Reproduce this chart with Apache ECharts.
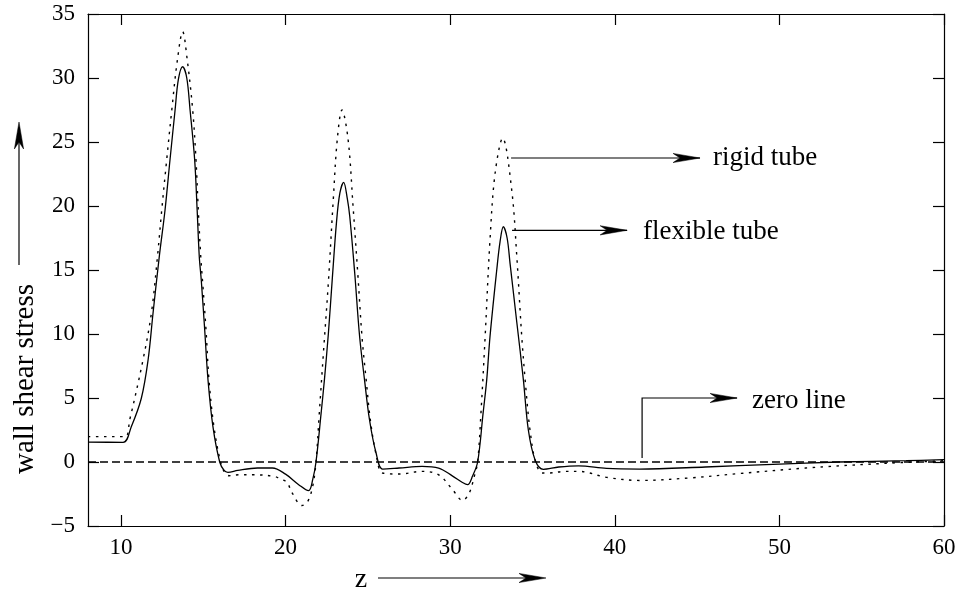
<!DOCTYPE html>
<html>
<head>
<meta charset="utf-8">
<script src="https://cdn.jsdelivr.net/npm/echarts@6/dist/echarts.min.js"></script>
<style>
  html, body { margin: 0; padding: 0; background: #fff; }
  #chart { width: 963px; height: 597px; }
</style>
</head>
<body>
<div id="chart"></div>
<script>
// Axial position z and the tick values shown along it
const zTicks = [10, 20, 30, 40, 50, 60];
const stressTicks = [-5, 0, 5, 10, 15, 20, 25, 30, 35];

// Wall shear stress along z, flexible tube (solid)
const flexibleTube = [
  [8, 1.55], [10.13, 1.54], [10.63, 2.76], [11.24, 4.98], [11.65, 7.97],
  [11.95, 11.62], [12.33, 16.04], [12.68, 19.69], [12.98, 23.59], [13.29, 27.5],
  [13.49, 29.9], [13.75, 30.88], [14.0, 30.0], [14.2, 27.5], [14.48, 23.6],
  [14.63, 19.7], [14.76, 16.04], [14.88, 14.22], [15.09, 10.31], [15.29, 6.41],
  [15.59, 2.76], [16.0, 0], [16.27, -0.66], [16.5, -0.81], [17.1, -0.65],
  [18.3, -0.47], [19.2, -0.47], [20.0, -0.95], [20.8, -1.77], [21.4, -2.24],
  [21.65, -1.38], [21.85, 0], [22.16, 3.8], [22.36, 6.4], [22.6, 10],
  [22.85, 14.5], [23.1, 18.8], [23.3, 21.0], [23.53, 21.85], [23.75, 20.6],
  [23.9, 19.2], [24.2, 14.8], [24.5, 9.8], [24.8, 6.4], [25.1, 3.3],
  [25.5, 0.7], [25.9, -0.55], [26.9, -0.47], [28.3, -0.34], [29.3, -0.47],
  [30.15, -1.1], [30.75, -1.6], [31.06, -1.77], [31.36, -1.1], [31.67, 0],
  [32.0, 3.8], [32.22, 6.4], [32.42, 9.79], [32.83, 15.0], [33.03, 17.2],
  [33.23, 18.38], [33.46, 17.5], [33.64, 15.5], [34.05, 10.9], [34.45, 6.4],
  [34.75, 2.5], [35.16, 0.16], [35.66, -0.57], [36.6, -0.39], [37.8, -0.3],
  [39.5, -0.5], [41.5, -0.55], [45.5, -0.39], [49.6, -0.18], [53.6, 0],
  [57.7, 0.1], [60, 0.18]
];

// Wall shear stress along z, rigid tube (dotted)
const rigidTube = [
  [8, 1.98], [10.23, 1.98], [10.53, 3.28], [11.34, 7.97], [11.85, 11.62],
  [12.22, 16.04], [12.48, 19.69], [12.78, 23.6], [13.09, 27.5], [13.43, 31.4],
  [13.75, 33.62], [14.03, 31.4], [14.36, 27.5], [14.56, 23.6], [14.7, 19.69],
  [14.85, 16.04], [15.0, 13.4], [15.17, 10.3], [15.35, 6.4], [15.65, 2.76],
  [16.05, 0], [16.3, -0.8], [16.57, -1.07], [17.2, -1.0], [18.1, -1.0],
  [19.3, -1.13], [19.8, -1.38], [20.1, -1.6], [20.4, -2.42], [21.0, -3.4],
  [21.35, -3.08], [21.65, -1.9], [21.85, 0], [22.05, 3.8], [22.3, 8.5],
  [22.6, 14], [22.9, 20.5], [23.15, 25.3], [23.43, 27.5], [23.8, 25.2],
  [24.1, 20.0], [24.4, 14.5], [24.65, 9.7], [24.9, 6.4], [25.15, 3.3],
  [25.5, 0.6], [25.9, -0.86], [26.9, -0.94], [28.3, -0.73], [29.3, -1.0],
  [30.15, -2.16], [30.75, -3.0], [31.16, -2.42], [31.47, -1.1], [31.67, 0],
  [31.87, 3.8], [32.12, 9.66], [32.42, 17.34], [32.73, 22.55], [33.19, 25.3],
  [33.74, 21.25], [34.05, 16.04], [34.35, 9.79], [34.61, 5.6], [34.85, 2.5],
  [35.19, 0], [35.6, -0.86], [36.0, -0.86], [37.0, -0.73], [37.8, -0.73],
  [39.5, -1.2], [41.5, -1.44], [44.5, -1.25], [47.5, -0.91], [51.6, -0.47],
  [55.6, -0.16], [60, 0.1]
];

// Reference line at zero stress
const zeroLine = [[8, 0], [60, 0]];

// Callout arrows (in data units) and their captions
const calloutLabels = ['rigid tube', 'flexible tube', 'zero line'];
const calloutPaths = [
  [[33.7, 23.75], [45.18, 23.75]],
  [[33.76, 18.1], [40.75, 18.1]],
  [[41.66, 0.31], [41.66, 5.0], [47.43, 5.0]]
];
const calloutTextAt = [[45.97, 23.75], [41.72, 17.95], [48.34, 4.75]];

const FONT = '"Liberation Serif", "Times New Roman", serif';
const INK = '#000';

// Barbed arrowhead polygon with its tip at (tx, ty), pointing along (dx, dy)
function arrowHead(tx, ty, dx, dy) {
  const len = Math.hypot(dx, dy) || 1;
  const ux = dx / len, uy = dy / len;
  const nx = -uy, ny = ux;
  const L = 27, W = 4.6, notch = 7;
  return [
    [tx, ty],
    [tx - L * ux + W * nx, ty - L * uy + W * ny],
    [tx - (L - notch) * ux, ty - (L - notch) * uy],
    [tx - L * ux - W * nx, ty - L * uy - W * ny]
  ];
}

function renderCallout(params, api) {
  const i = params.dataIndex;
  const pts = calloutPaths[i].map(p => api.coord(p));
  const n = pts.length;
  const tip = pts[n - 1], prev = pts[n - 2];
  const textPos = api.coord(calloutTextAt[i]);
  return {
    type: 'group',
    children: [
      { type: 'polyline', shape: { points: pts }, style: { stroke: INK, lineWidth: 1.2, fill: null } },
      { type: 'polygon', shape: { points: arrowHead(tip[0], tip[1], tip[0] - prev[0], tip[1] - prev[1]) },
        style: { fill: INK, stroke: INK, lineWidth: 0.5 } },
      { type: 'text', x: textPos[0], y: textPos[1],
        style: { text: calloutLabels[i], font: '27px ' + FONT, fill: INK,
                 textAlign: 'left', textVerticalAlign: 'middle' } }
    ]
  };
}

const chart = echarts.init(document.getElementById('chart'), null, { renderer: 'canvas' });

const axisLineStyle = { color: INK, width: 1.2 };
const tickStyle = { color: INK, width: 1.2 };

const yArrow = arrowHead(19, 122, 0, -1);
const zArrow = arrowHead(546, 578, 1, 0);

chart.setOption({
  animation: false,
  backgroundColor: '#fff',
  grid: { left: 88, top: 14, width: 856, height: 512, containLabel: false },
  xAxis: [
    {
      type: 'value', position: 'bottom', min: 8, max: 60,
      axisLine: { show: true, onZero: false, lineStyle: axisLineStyle },
      axisTick: { show: true, inside: true, length: 11, customValues: zTicks, lineStyle: tickStyle },
      axisLabel: { show: true, customValues: zTicks, fontFamily: FONT, fontSize: 23, color: INK, margin: 10 },
      splitLine: { show: false }
    },
    {
      type: 'value', position: 'top', min: 8, max: 60,
      axisLine: { show: true, onZero: false, lineStyle: axisLineStyle },
      axisTick: { show: true, inside: true, length: 11, customValues: zTicks, lineStyle: tickStyle },
      axisLabel: { show: false },
      splitLine: { show: false }
    }
  ],
  yAxis: [
    {
      type: 'value', position: 'left', min: -5, max: 35, interval: 5,
      axisLine: { show: true, onZero: false, lineStyle: axisLineStyle },
      axisTick: { show: true, inside: true, length: 11, lineStyle: tickStyle },
      axisLabel: {
        show: true, fontFamily: FONT, fontSize: 23, color: INK, margin: 13,
        formatter: v => (stressTicks.includes(v) ? (v < 0 ? '\u2212' + Math.abs(v) : String(v)) : '')
      },
      splitLine: { show: false }
    },
    {
      type: 'value', position: 'right', min: -5, max: 35, interval: 5,
      axisLine: { show: true, onZero: false, lineStyle: axisLineStyle },
      axisTick: { show: true, inside: true, length: 11, lineStyle: tickStyle },
      axisLabel: { show: false },
      splitLine: { show: false }
    }
  ],
  series: [
    {
      name: 'zero line', type: 'line', data: zeroLine, showSymbol: false, silent: true,
      lineStyle: { color: INK, width: 1.3, type: [8, 4] }
    },
    {
      name: 'rigid tube', type: 'line', data: rigidTube, showSymbol: false,
      smooth: 0.35,
      lineStyle: { color: INK, width: 1.4, type: [2.5, 5.5] }
    },
    {
      name: 'flexible tube', type: 'line', data: flexibleTube, showSymbol: false,
      smooth: 0.35,
      lineStyle: { color: INK, width: 1.3 }
    },
    {
      name: 'callouts', type: 'custom', renderItem: renderCallout, clip: false, silent: true,
      data: calloutPaths.map(p => p[0])
    }
  ],
  graphic: [
    { type: 'text', x: 25, y: 379, rotation: Math.PI / 2,
      style: { text: 'wall shear stress', font: '29px ' + FONT, fill: INK,
               textAlign: 'center', textVerticalAlign: 'middle' } },
    { type: 'line', shape: { x1: 19, y1: 265, x2: 19, y2: 130 }, style: { stroke: INK, lineWidth: 1.2 } },
    { type: 'polygon', shape: { points: yArrow }, style: { fill: INK, stroke: INK, lineWidth: 0.5 } },
    { type: 'text', x: 361, y: 580,
      style: { text: 'z', font: '28px ' + FONT, fill: INK, textAlign: 'center', textVerticalAlign: 'middle' } },
    { type: 'line', shape: { x1: 378, y1: 578, x2: 538, y2: 578 }, style: { stroke: INK, lineWidth: 1.2 } },
    { type: 'polygon', shape: { points: zArrow }, style: { fill: INK, stroke: INK, lineWidth: 0.5 } }
  ]
});
</script>
</body>
</html>
